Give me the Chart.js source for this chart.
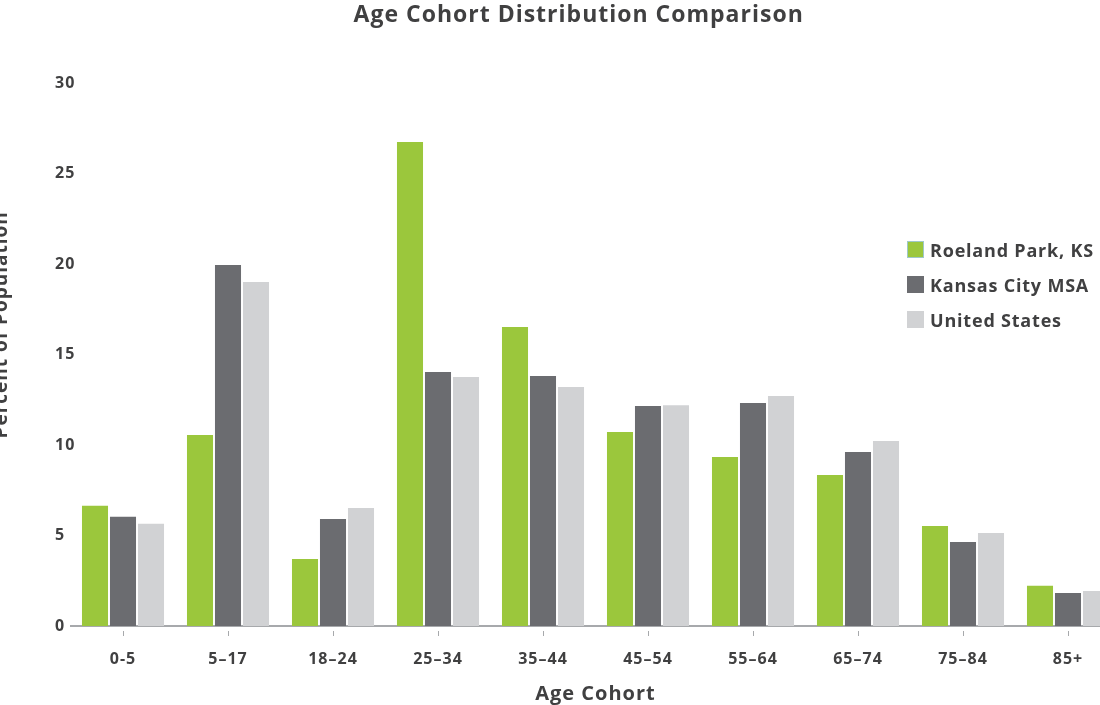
<!DOCTYPE html>
<html>
<head>
<meta charset="utf-8">
<script src="https://cdn.jsdelivr.net/npm/chart.js@4/dist/chart.umd.min.js"></script>
<style>
  body { margin: 0; overflow: hidden; background: #fff; font-family: "Open Sans", sans-serif; }
  #wrap { position: absolute; left: -12px; top: 0; width: 1145px; height: 705px; }
  #legenda { position: absolute; left: 907px; top: 232px; color: #404041; font-weight: bold; font-size: 18px; letter-spacing: 0.8px; }
  #legenda div { display: flex; align-items: center; height: 35px; }
  #legenda span.box { width: 17px; height: 17px; margin-right: 6px; box-sizing: border-box; }
</style>
</head>
<body>
<div id="wrap"><canvas id="grafico"></canvas></div>
<div id="legenda"></div>
<script>
// Dados
const categorias = ["0-5", "5–17", "18–24", "25–34", "35–44", "45–54", "55–64", "65–74", "75–84", "85+"];
const roelandPark = [6.65, 10.55, 3.70, 26.74, 16.52, 10.72, 9.34, 8.34, 5.52, 2.23];
const kansasCity = [6.04, 19.94, 5.91, 14.03, 13.81, 12.15, 12.32, 9.61, 4.64, 1.82];
const estadosUnidos = [5.65, 19.00, 6.52, 13.76, 13.20, 12.20, 12.71, 10.22, 5.14, 1.93];
const yTicks = [0, 5, 10, 15, 20, 25, 30];

const series = [
    { label: "Roeland Park, KS", data: roelandPark, cor: "#9bc73c", borda: "#9fc8c8" },
    { label: "Kansas City MSA", data: kansasCity, cor: "#6b6c70", borda: "#6b6c70" },
    { label: "United States", data: estadosUnidos, cor: "#d1d2d4", borda: "#d1d2d4" }
];

const corTexto = "#404041";
const fonte = "'Open Sans', sans-serif";

// Legenda em HTML
const legenda = document.getElementById("legenda");
series.forEach(s => {
    legenda.innerHTML += `<div><span class="box" style="background:${s.cor};border:1px solid ${s.borda}"></span>${s.label}</div>`;
});

// fonte original é mais larga: um pouco de espaçamento entre letras
const espacamento = {
    id: "espacamento",
    beforeDraw(chart) { chart.ctx.letterSpacing = "1px"; }
};

// Gráfico
const ctx = document.getElementById("grafico").getContext("2d");
new Chart(ctx, {
    type: "bar",
    data: {
        labels: categorias,
        datasets: series.map(s => ({
            label: s.label,
            data: s.data,
            backgroundColor: s.cor,
            categoryPercentage: 0.8,
            barPercentage: 0.93
        }))
    },
    plugins: [espacamento],
    options: {
        responsive: true,
        maintainAspectRatio: false,
        animation: false,
        layout: { padding: { left: 0, right: 12.5, top: 0, bottom: 0 } },
        plugins: {
            legend: { display: false },
            tooltip: { enabled: false },
            title: {
                display: true,
                // espaços à esquerda empurram o título um pouco para a direita
                text: "\u00a0".repeat(7) + "Age Cohort Distribution Comparison",
                color: corTexto,
                font: { family: fonte, size: 23, weight: "bold" },
                padding: { top: 2, bottom: 53.4 }
            }
        },
        scales: {
            x: {
                grid: {
                    display: true,
                    offset: false,
                    drawOnChartArea: false,
                    tickLength: 10,
                    tickColor: "#a7a9ac",
                    tickBorderDash: [5, 4],
                    tickBorderDashOffset: 5
                },
                border: { color: "#a7a9ac", width: 2 },
                ticks: {
                    color: corTexto,
                    font: { family: fonte, size: 16, weight: "bold" },
                    padding: 14,
                    maxRotation: 0,
                    autoSkip: false
                },
                title: {
                    display: true,
                    text: "Age Cohort",
                    color: corTexto,
                    font: { family: fonte, size: 20, weight: "bold" },
                    padding: { top: 0, bottom: -1 }
                },
                afterFit: scale => { scale.height = 79; }
            },
            y: {
                min: 0,
                max: 30,
                grid: { display: false },
                border: { display: false },
                afterBuildTicks: scale => { scale.ticks = yTicks.map(v => ({ value: v })); },
                ticks: {
                    color: corTexto,
                    mirror: true,
                    padding: -15.5,
                    font: { family: fonte, size: 16, weight: "bold" }
                },
                title: {
                    display: true,
                    // espaços à esquerda sobem o texto, como no original
                    text: "\u00a0".repeat(10) + "Percent of Population",
                    color: corTexto,
                    font: { family: fonte, size: 19, weight: "bold" },
                    padding: { top: 2.6, bottom: 0 }
                },
                afterFit: scale => { scale.width = 82.5; }
            }
        }
    }
});
</script>
</body>
</html>
